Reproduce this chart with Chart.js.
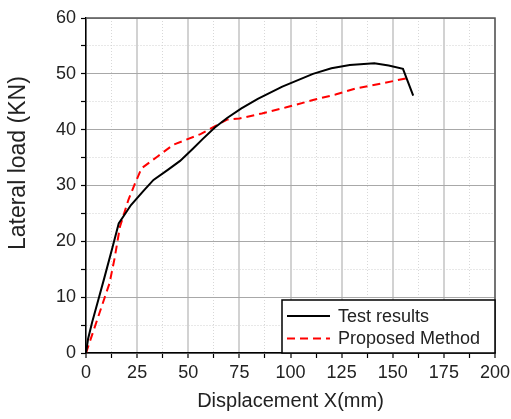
<!DOCTYPE html>
<html>
<head>
<meta charset="utf-8">
<script src="https://cdn.jsdelivr.net/npm/chart.js@4.4.1/dist/chart.umd.min.js"></script>
<style>
    body { margin: 0; background: #fff; }
    #wrap { width: 511px; height: 419px; }
</style>
</head>
<body>
<div id="wrap"><canvas id="myChart" width="511" height="419"></canvas></div>
<script>
    // Test results (black solid)
    const testX = [0, 1, 3, 6, 9, 13, 16, 22, 28, 33, 40, 46, 52, 57, 63, 69, 76, 84, 96, 111, 120, 129, 141, 148, 155, 160];
    const testY = [0, 2.5, 5.5, 9.5, 13.5, 19, 23.2, 26.5, 29, 31, 32.8, 34.4, 36.5, 38.3, 40.4, 42.1, 43.8, 45.5, 47.7, 50, 51, 51.6, 51.9, 51.5, 50.9, 46.1];

    // Proposed Method (red dashed)
    const propX = [0, 11.5, 14, 16.6, 20.7, 24, 27.2, 35, 42.7, 49, 56, 62, 69, 75, 86, 98, 111, 122, 132, 145, 158];
    const propY = [0, 12.5, 17, 22.6, 27.4, 30.4, 33.1, 35.2, 37.3, 38.2, 39.2, 40.4, 41.8, 42, 42.9, 44, 45.3, 46.3, 47.4, 48.3, 49.3];

    const seriesNames = ['Test results', 'Proposed Method'];

    const fontFamily = '"Liberation Sans", Arial, sans-serif';
    var ctx = document.getElementById('myChart').getContext('2d');

    function toPoints(xs, ys) {
        return xs.map((value, index) => ({ x: value, y: ys[index] }));
    }

    // legend box drawn inside the plot, bottom right
    const insideLegend = {
        id: 'insideLegend',
        afterDraw(chart) {
            const c = chart.ctx;
            const area = chart.chartArea;
            // top and right frame of the plot
            c.save();
            c.strokeStyle = '#555';
            c.lineWidth = 1.5;
            c.beginPath();
            c.moveTo(area.left, area.top);
            c.lineTo(area.right, area.top);
            c.lineTo(area.right, area.bottom);
            c.stroke();

            const boxW = 213, boxH = 53;
            const bx = area.right - boxW, by = area.bottom - boxH;
            c.fillStyle = '#fff';
            c.fillRect(bx, by, boxW, boxH);
            c.strokeStyle = '#000';
            c.lineWidth = 1.5;
            c.strokeRect(bx, by, boxW, boxH);

            c.font = '18px ' + fontFamily;
            c.textBaseline = 'middle';
            chart.data.datasets.forEach((ds, i) => {
                const yy = by + 16 + i * 22.5;
                c.strokeStyle = ds.borderColor;
                c.lineWidth = ds.borderWidth;
                c.setLineDash(ds.borderDash || []);
                c.beginPath();
                c.moveTo(bx + 5, yy);
                c.lineTo(bx + 48, yy);
                c.stroke();
                c.setLineDash([]);
                c.fillStyle = '#222';
                c.fillText(ds.label, bx + 56, yy + 1);
            });
            c.restore();
        }
    };

    function isMajor(context, step) {
        return context.tick && Math.abs(context.tick.value % step) < 1e-6;
    }

    var scatterChart = new Chart(ctx, {
        type: 'scatter',
        data: {
            datasets: [
                {
                    label: seriesNames[0],
                    data: toPoints(testX, testY),
                    showLine: true,
                    borderColor: '#000',
                    backgroundColor: '#000',
                    borderWidth: 2,
                    pointRadius: 0,
                    tension: 0
                },
                {
                    label: seriesNames[1],
                    data: toPoints(propX, propY),
                    showLine: true,
                    borderColor: '#ff0000',
                    backgroundColor: '#ff0000',
                    borderWidth: 2,
                    borderDash: [8, 5],
                    pointRadius: 0,
                    tension: 0
                }
            ]
        },
        options: {
            responsive: false,
            animation: false,
            layout: { padding: { top: 18, right: 16, left: 0, bottom: 0 } },
            plugins: {
                legend: { display: false },
                tooltip: { enabled: false }
            },
            scales: {
                x: {
                    type: 'linear',
                    position: 'bottom',
                    min: 0,
                    max: 200,
                    ticks: {
                        stepSize: 12.5,
                        autoSkip: false,
                        maxRotation: 0,
                        color: '#222',
                        padding: 4,
                        font: { family: fontFamily, size: 18 },
                        callback: (value) => (value % 25 === 0 ? value : '')
                    },
                    grid: {
                        color: (c) => (isMajor(c, 25) ? '#d2d2d2' : '#d8d8d8'),
                        lineWidth: (c) => (isMajor(c, 25) ? 2 : 1),
                        tickColor: '#000',
                        tickLength: 5,
                        tickWidth: 1.2,
                        tickBorderDash: []
                    },
                    border: {
                        color: '#000',
                        width: 1.5,
                        dash: (c) => (c.tick && !isMajor(c, 25) ? [1, 2] : [])
                    },
                    title: {
                        display: true,
                        text: 'Displacement X(mm)',
                        color: '#222',
                        font: { family: fontFamily, size: 20, lineHeight: 1.2 },
                        padding: { top: 0, bottom: 6 }
                    },
                    afterFit: (scale) => {
                        scale.height = 66;
                        scale.paddingLeft = 0;
                        scale.paddingRight = 0;
                    }
                },
                y: {
                    min: 0,
                    max: 60,
                    ticks: {
                        stepSize: 5,
                        autoSkip: false,
                        color: '#222',
                        padding: 5,
                        font: { family: fontFamily, size: 18 },
                        callback: (value) => (value % 10 === 0 ? value : '')
                    },
                    grid: {
                        color: (c) => (isMajor(c, 10) ? '#a8a8a8' : '#d0d0d0'),
                        lineWidth: 1,
                        tickColor: '#000',
                        tickLength: 5,
                        tickWidth: 1.2,
                        tickBorderDash: []
                    },
                    border: {
                        color: '#000',
                        width: 1.5,
                        dash: (c) => (c.tick && !isMajor(c, 10) ? [1, 2] : [])
                    },
                    title: {
                        display: true,
                        text: '       Lateral load (KN)',
                        color: '#222',
                        font: { family: fontFamily, size: 23, lineHeight: 1.2 },
                        padding: { top: 5, bottom: 0 }
                    },
                    afterFit: (scale) => {
                        scale.width = 86;
                        scale.paddingTop = 0;
                        scale.paddingBottom = 0;
                    }
                }
            }
        },
        plugins: [insideLegend]
    });
</script>
</body>
</html>
